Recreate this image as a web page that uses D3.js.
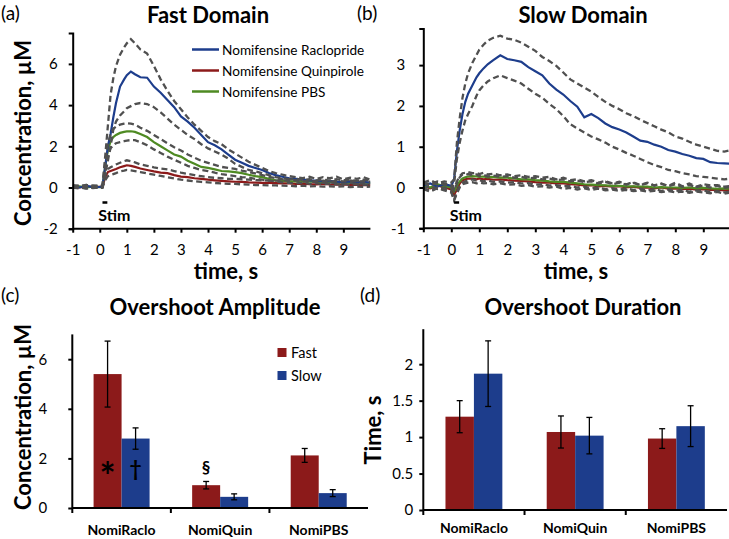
<!DOCTYPE html>
<html><head><meta charset="utf-8">
<script src="https://cdn.jsdelivr.net/npm/d3@7"></script>
<style>body{margin:0;background:#fff}svg{display:block;font-family:Lato,"Open Sans",sans-serif}</style>
</head><body><svg id="c" width="729" height="539"></svg>
<script>
// ---------- DATA ----------
const T = [-1,-0.75,-0.5,-0.25,0,0.1,0.2,0.3,0.4,0.5,0.6,0.75,0.9,1.0,1.15,1.3,1.5,1.75,
  2.0,2.25,2.5,2.75,3.0,3.25,3.5,3.75,4.0,4.25,4.5,4.75,5.0,5.25,5.5,5.75,6.0,6.25,6.5,6.75,
  7.0,7.25,7.5,7.75,8.0,8.25,8.5,8.75,9.0,9.25,9.5,9.75,10];

// Fast domain (a)
const fastRaclo = [0.05,0.0,0.08,0.02,0.03, 0.05,1.0,2.0,2.6,3.4,4.1,4.9,5.25, 5.45,5.63,5.5,5.35,5.33,
  4.9,4.6,4.25,3.9,3.45,3.2,2.9,2.55,2.2,2.05,1.85,1.6,1.35,1.2,1.05,0.95,0.85,0.7,0.6,0.52,0.45,0.42,0.38,0.35,0.33,0.3,0.32,0.28,0.26,0.3,0.25,0.27,0.24];
const fastRacloHi = [0.1,0.05,0.12,0.07,0.08, 0.1,1.5,3.0,4.5,5.3,5.9,6.45,6.8, 7.0,7.2,7.0,6.7,6.5,
  5.9,5.25,4.7,4.2,3.8,3.4,3.05,2.75,2.45,2.25,2.1,1.85,1.65,1.45,1.25,1.1,0.95,0.8,0.7,0.62,0.55,0.5,0.45,0.52,0.42,0.5,0.45,0.52,0.4,0.48,0.42,0.5,0.38];
const fastRacloLo = [0.0,-0.05,0.03,-0.03,0.0, 0.0,0.6,1.3,2.0,2.8,3.2,3.5,3.7, 3.85,3.95,4.05,4.1,4.05,
  3.9,3.65,3.35,3.05,2.8,2.55,2.35,2.1,1.9,1.75,1.6,1.4,1.15,1.0,0.85,0.78,0.7,0.6,0.5,0.45,0.4,0.35,0.3,0.28,0.25,0.22,0.25,0.2,0.18,0.22,0.17,0.2,0.16];
const fastPBS = [0.03,0.06,0.0,0.04,0.02, 0.03,1.0,1.8,2.25,2.45,2.55,2.65,2.7, 2.72,2.73,2.7,2.6,2.45,
  2.2,2.0,1.8,1.6,1.5,1.3,1.15,1.0,0.95,0.88,0.8,0.78,0.75,0.7,0.62,0.55,0.5,0.42,0.35,0.32,0.3,0.3,0.28,0.3,0.27,0.25,0.28,0.24,0.26,0.22,0.25,0.23,0.22];
const fastPBSHi = [0.08,0.1,0.05,0.1,0.06, 0.08,1.2,2.1,2.6,2.85,2.95,3.05,3.1, 3.12,3.1,3.05,2.9,2.75,
  2.55,2.35,2.15,1.95,1.8,1.6,1.45,1.3,1.2,1.1,1.0,0.95,0.9,0.82,0.75,0.68,0.6,0.52,0.45,0.4,0.38,0.42,0.36,0.4,0.35,0.38,0.33,0.4,0.35,0.37,0.32,0.38,0.34];
const fastPBSLo = [-0.02,0.02,-0.04,0.0,-0.03, 0.0,0.8,1.5,1.9,2.05,2.15,2.2,2.25, 2.28,2.3,2.3,2.2,2.05,
  1.85,1.68,1.5,1.35,1.2,1.05,0.95,0.85,0.8,0.72,0.65,0.6,0.55,0.5,0.48,0.42,0.38,0.33,0.3,0.25,0.22,0.2,0.23,0.18,0.2,0.16,0.19,0.15,0.18,0.14,0.17,0.13,0.15];
const fastQuin = [0.04,0.0,0.05,0.02,0.03, 0.03,0.5,0.75,0.8,0.85,0.9,0.98,1.04, 1.08,1.05,1.0,0.92,0.85,
  0.78,0.72,0.7,0.6,0.53,0.5,0.45,0.42,0.38,0.35,0.32,0.3,0.28,0.27,0.25,0.24,0.22,0.22,0.21,0.2,0.2,0.18,0.19,0.16,0.15,0.17,0.15,0.14,0.15,0.13,0.14,0.12,0.12];
const fastQuinHi = [0.1,0.05,0.12,0.06,0.09, 0.08,0.6,0.9,0.98,1.05,1.12,1.2,1.28, 1.32,1.28,1.22,1.12,1.05,
  0.98,0.92,0.88,0.8,0.72,0.66,0.6,0.55,0.5,0.47,0.45,0.42,0.42,0.4,0.38,0.36,0.35,0.34,0.33,0.35,0.32,0.36,0.3,0.34,0.3,0.33,0.28,0.32,0.3,0.34,0.29,0.31,0.28];
const fastQuinLo = [-0.03,0.01,-0.05,0.0,-0.02, 0.0,0.35,0.55,0.6,0.65,0.7,0.78,0.82, 0.85,0.83,0.8,0.75,0.68,
  0.62,0.56,0.5,0.44,0.38,0.34,0.3,0.27,0.25,0.22,0.2,0.18,0.18,0.15,0.14,0.12,0.12,0.1,0.1,0.09,0.08,0.06,0.09,0.05,0.07,0.04,0.06,0.03,0.06,0.02,0.05,0.03,0.04];

// Slow domain (b)
const slowRaclo = [0.05,0.1,0.02,0.08,0.04, 0.2,0.9,1.4,1.8,2.1,2.3,2.5,2.7, 2.8,2.92,3.02,3.12,3.24,
  3.15,3.12,3.08,2.95,2.85,2.75,2.55,2.4,2.28,2.12,1.98,1.72,1.8,1.7,1.57,1.48,1.42,1.35,1.25,1.15,1.12,1.05,1.0,0.92,0.88,0.82,0.78,0.72,0.7,0.62,0.6,0.59,0.58];
const slowRacloHi = [0.12,0.18,0.1,0.15,0.12, 0.2,1.1,1.7,2.2,2.55,2.8,3.05,3.25, 3.38,3.5,3.6,3.67,3.72,
  3.65,3.62,3.55,3.45,3.35,3.2,3.1,2.98,2.82,2.65,2.55,2.45,2.35,2.22,2.1,2.0,1.92,1.82,1.75,1.66,1.58,1.5,1.42,1.35,1.25,1.2,1.12,1.05,1.0,0.95,0.9,0.88,0.92];
const slowRacloLo = [-0.02,0.03,-0.04,0.0,-0.05, 0.1,0.7,1.1,1.4,1.65,1.8,2.0,2.25, 2.38,2.5,2.6,2.68,2.75,
  2.68,2.62,2.55,2.42,2.3,2.2,2.05,1.92,1.75,1.55,1.45,1.35,1.25,1.18,1.1,1.0,0.93,0.85,0.78,0.7,0.62,0.55,0.5,0.43,0.4,0.35,0.32,0.28,0.26,0.24,0.22,0.2,0.22];
const slowPBS = [0.05,0.0,0.08,0.03,0.0, -0.1,0.05,0.15,0.22,0.25,0.27,0.28,0.27, 0.26,0.27,0.25,0.26,0.24,
  0.24,0.22,0.2,0.2,0.18,0.17,0.15,0.14,0.14,0.12,0.1,0.08,0.07,0.06,0.05,0.04,0.04,0.03,0.03,0.02,0.02,0.0,0.01,0.0,0.0,-0.01,0.0,-0.02,-0.01,-0.02,-0.03,-0.02,-0.03];
const slowPBSHi = [0.12,0.08,0.15,0.1,0.06, -0.02,0.15,0.28,0.35,0.36,0.38,0.35,0.36, 0.33,0.36,0.32,0.34,0.3,
  0.32,0.28,0.3,0.26,0.28,0.24,0.26,0.2,0.24,0.18,0.2,0.15,0.18,0.12,0.16,0.1,0.14,0.08,0.13,0.06,0.12,0.05,0.1,0.04,0.12,0.03,0.1,0.02,0.08,0.05,0.06,0.02,0.04];
const slowPBSLo = [-0.02,-0.08,0.0,-0.05,-0.1, -0.3,-0.1,0.05,0.12,0.15,0.18,0.2,0.17, 0.18,0.15,0.17,0.14,0.15,
  0.12,0.13,0.1,0.11,0.07,0.08,0.05,0.06,0.03,0.04,0.0,0.02,-0.02,0.0,-0.04,-0.02,-0.05,-0.02,-0.06,-0.03,-0.07,-0.04,-0.08,-0.05,-0.09,-0.06,-0.1,-0.07,-0.08,-0.11,-0.09,-0.12,-0.1];
const slowQuin = [0.04,-0.02,0.05,0.0,-0.05, -0.18,-0.05,0.1,0.18,0.2,0.22,0.22,0.2, 0.22,0.2,0.21,0.19,0.2,
  0.18,0.17,0.16,0.15,0.13,0.12,0.12,0.1,0.1,0.08,0.07,0.05,0.06,0.03,0.04,0.02,0.03,0.0,0.02,-0.01,0.0,-0.02,0.0,-0.03,-0.02,-0.04,-0.03,-0.05,-0.04,-0.06,-0.05,-0.07,-0.06];
const slowQuinHi = [0.1,0.05,0.12,0.07,0.02, -0.08,0.1,0.25,0.32,0.3,0.33,0.3,0.32, 0.28,0.31,0.27,0.29,0.26,
  0.28,0.24,0.26,0.22,0.24,0.2,0.22,0.18,0.2,0.15,0.17,0.13,0.15,0.1,0.14,0.08,0.12,0.07,0.11,0.06,0.1,0.05,0.09,0.03,0.08,0.02,0.06,0.01,0.05,0.0,0.04,-0.01,0.02];
const slowQuinLo = [-0.04,-0.1,-0.02,-0.07,-0.12, -0.32,-0.15,0.0,0.08,0.1,0.12,0.13,0.1, 0.12,0.1,0.11,0.08,0.1,
  0.07,0.08,0.04,0.06,0.02,0.03,0.0,0.02,-0.03,-0.01,-0.05,-0.02,-0.06,-0.03,-0.07,-0.05,-0.08,-0.06,-0.09,-0.07,-0.1,-0.08,-0.11,-0.09,-0.12,-0.1,-0.13,-0.1,-0.12,-0.14,-0.11,-0.15,-0.12];

const timeTicks = [-1,0,1,2,3,4,5,6,7,8,9];
const fastTicks = [-2,0,2,4,6];
const slowTicks = [-1,0,1,2,3];
const stimWindow = [0.1, 0.28];
const legendNames = ["Nomifensine Raclopride","Nomifensine Quinpirole","Nomifensine PBS"];

// Bar panels (c), (d)
const barCats = ["NomiRaclo","NomiQuin","NomiPBS"];
const barSeries = ["Fast","Slow"];
const ampFast = [5.4, 0.92, 2.12], ampFastErr = [1.33, 0.15, 0.28];
const ampSlow = [2.8, 0.45, 0.6],  ampSlowErr = [0.43, 0.12, 0.14];
const durFast = [1.28, 1.07, 0.98], durFastErr = [0.22, 0.22, 0.135];
const durSlow = [1.87, 1.02, 1.15], durSlowErr = [0.45, 0.25, 0.28];
const ampTicks = [0,2,4,6];
const durTicks = [0,0.5,1,1.5,2];

// ---------- STYLE ----------
const C_BLUE="#1d3d8c", C_RED="#8c1a1a", C_GREEN="#4e8a22", C_GRAY="#505050";
const TICK_FS = 15;
const svg = d3.select("#c");
svg.append("rect").attr("width",729).attr("height",539).attr("fill","#fff");

function styleAxis(g, fs){
  g.selectAll("path.domain").attr("stroke","#000").attr("stroke-width",2);
  g.selectAll(".tick line").attr("stroke","#000").attr("stroke-width",2);
  g.selectAll(".tick text").attr("font-size",fs).attr("fill","#000").attr("font-family","Lato");
}

function linePanel(o){
  const x = d3.scaleLinear().domain([-1,10]).range(o.xr);
  const y = d3.scaleLinear().domain(o.yd).range(o.yr);
  const id = "clip"+o.key;
  svg.append("clipPath").attr("id",id).append("rect")
    .attr("x",o.xr[0]).attr("y",0).attr("width",Math.min(o.xr[1],729)-o.xr[0]).attr("height",o.yr[0]);
  const g = svg.append("g").attr("clip-path",`url(#${id})`);
  const line = d3.line().x((d,i)=>x(T[i])).y(d=>y(d));
  o.means.forEach(m=>{
    g.append("path").attr("d",line(m.v)).attr("fill","none").attr("stroke",m.c).attr("stroke-width",2.2);
  });
  o.bounds.forEach(b=>{
    g.append("path").attr("d",line(b)).attr("fill","none").attr("stroke",C_GRAY)
      .attr("stroke-width",2.3).attr("stroke-dasharray","6,3.5");
  });
  const ya = svg.append("g").attr("transform",`translate(${o.xr[0]},0)`)
    .call(d3.axisLeft(y).tickValues(o.yt).tickSize(4).tickPadding(o.ypad).tickFormat(d=>String(d)));
  styleAxis(ya,TICK_FS);
  const xa = svg.append("g").attr("transform",`translate(0,${o.yr[0]})`)
    .call(d3.axisBottom(x).tickValues(timeTicks).tickSize(4).tickPadding(12).tickFormat(d=>String(d)));
  styleAxis(xa,TICK_FS);
  xa.select("path.domain").attr("d",`M${o.xr[0]},0H${Math.min(o.xr[1],729)}`);
  // stim
  svg.append("line").attr("x1",x(stimWindow[0])).attr("x2",x(stimWindow[1]))
    .attr("y1",202.5).attr("y2",202.5).attr("stroke","#000").attr("stroke-width",2.5);
  svg.append("text").attr("x",x(0)-1.5).attr("y",221).attr("font-size",16).attr("font-weight","bold").text("Stim");
  return {x,y};
}

// Panel (a)
linePanel({key:"a", xr:[72.7,370.4], yd:[-2,7.5], yr:[228.7,33], yt:fastTicks, ypad:11,
  means:[{v:fastQuin,c:C_RED},{v:fastPBS,c:C_GREEN},{v:fastRaclo,c:C_BLUE}],
  bounds:[fastRacloHi,fastRacloLo,fastPBSHi,fastPBSLo,fastQuinHi,fastQuinLo]});
// Panel (b)
linePanel({key:"b", xr:[423.3,731.3], yd:[-1,3.9], yr:[228.3,28.4], yt:slowTicks, ypad:14,
  means:[{v:slowQuin,c:C_RED},{v:slowPBS,c:C_GREEN},{v:slowRaclo,c:C_BLUE}],
  bounds:[slowRacloHi,slowRacloLo,slowPBSHi,slowPBSLo,slowQuinHi,slowQuinLo]});

// legend (a)
[C_BLUE,C_RED,C_GREEN].forEach((c,i)=>{
  const yy = 49.5 + i*21;
  svg.append("line").attr("x1",192).attr("x2",219).attr("y1",yy).attr("y2",yy).attr("stroke",c).attr("stroke-width",2.5);
  svg.append("text").attr("x",222).attr("y",yy+5).attr("font-size",13.6).text(legendNames[i]);
});

// titles and labels
function txt(x,y,s,fs,opt={}){
  const t = svg.append("text").attr("x",x).attr("y",y).attr("font-size",fs).text(s)
    .attr("text-anchor",opt.anchor||"middle").attr("font-weight",opt.bold?"bold":"normal");
  if(opt.rot) t.attr("transform",`rotate(-90,${x},${y})`);
  return t;
}
txt(1,20,"(a)",19,{anchor:"start"});
txt(357,20,"(b)",19,{anchor:"start"});
txt(1,302,"(c)",19,{anchor:"start"});
txt(360,302,"(d)",19,{anchor:"start"});
txt(208,23,"Fast Domain",22,{bold:true});
txt(583,23,"Slow Domain",22,{bold:true});
txt(226,279,"time, s",22,{bold:true});
txt(576,279,"time, s",22,{bold:true});
txt(31,133,"Concentration, µM",22,{bold:true,rot:true});
txt(215,315,"Overshoot Amplitude",22,{bold:true});
txt(583,315,"Overshoot Duration",22,{bold:true});
txt(31,417,"Concentration, µM",22,{bold:true,rot:true});
txt(381,430,"Time, s",22,{bold:true,rot:true});

// ---------- BAR PANELS ----------
function barPanel(o){
  const x0 = d3.scaleBand().domain(barCats).range(o.xr).padding(0);
  const x1 = d3.scaleBand().domain(barSeries).range([0,x0.bandwidth()]).paddingInner(0).paddingOuter(o.po);
  const y = d3.scaleLinear().domain(o.yd).range(o.yr);
  const series = [{k:"Fast",v:o.fast,e:o.fastErr,c:C_RED},{k:"Slow",v:o.slow,e:o.slowErr,c:C_BLUE}];
  series.forEach(s=>{
    barCats.forEach((cat,i)=>{
      const bx = x0(cat)+x1(s.k);
      svg.append("rect").attr("x",bx).attr("y",y(s.v[i])).attr("width",x1.bandwidth())
        .attr("height",y(0)-y(s.v[i])).attr("fill",s.c);
      const cx = bx + x1.bandwidth()/2;
      const lo = y(s.v[i]-s.e[i]), hi = y(s.v[i]+s.e[i]);
      svg.append("line").attr("x1",cx).attr("x2",cx).attr("y1",lo).attr("y2",hi).attr("stroke","#000").attr("stroke-width",1.3);
      [lo,hi].forEach(yy=>svg.append("line").attr("x1",cx-3).attr("x2",cx+3).attr("y1",yy).attr("y2",yy).attr("stroke","#000").attr("stroke-width",1.3));
    });
  });
  const ya = svg.append("g").attr("transform",`translate(${o.xr[0]},0)`)
    .call(d3.axisLeft(y).tickValues(o.yt).tickSize(4).tickPadding(o.ypad).tickFormat(d=>String(d)));
  styleAxis(ya,TICK_FS);
  ya.select("path.domain").attr("d",`M0,${o.yr[0]}V${o.yr[1]}`);
  // x axis with category separators
  const xa = svg.append("g").attr("transform",`translate(0,${o.yr[0]})`);
  xa.append("line").attr("x1",o.xr[0]).attr("x2",o.xr[1]).attr("stroke","#000").attr("stroke-width",2);
  barCats.forEach(cat=>{
    xa.append("line").attr("x1",x0(cat)).attr("x2",x0(cat)).attr("y1",0).attr("y2",5).attr("stroke","#000").attr("stroke-width",2);
    xa.append("text").attr("x",x0(cat)+x0.bandwidth()/2).attr("y",o.labY).attr("text-anchor","middle")
      .attr("font-size",14).attr("font-weight","bold").text(cat);
  });
  return {x0,x1,y};
}

const pc = barPanel({xr:[72.3,368], yd:[0,7], yr:[508,334.4], yt:ampTicks, ypad:21, po:0.76, labY:27,
  fast:ampFast, fastErr:ampFastErr, slow:ampSlow, slowErr:ampSlowErr});
const pd = barPanel({xr:[423.3,727], yd:[0,2.48], yr:[510,329.2], yt:durTicks, ypad:6, po:0.78, labY:23,
  fast:durFast, fastErr:durFastErr, slow:durSlow, slowErr:durSlowErr});

// legend (c)
[["Fast",C_RED],["Slow",C_BLUE]].forEach((d,i)=>{
  const yy = 352.5 + i*23;
  svg.append("rect").attr("x",277.5).attr("y",yy-4.5).attr("width",9).attr("height",9).attr("fill",d[1]);
  svg.append("text").attr("x",291).attr("y",yy+5).attr("font-size",14.5).text(d[0]);
});

// significance marks (c)
const xRacloF = pc.x0("NomiRaclo")+pc.x1("Fast")+pc.x1.bandwidth()/2;
const xRacloS = pc.x0("NomiRaclo")+pc.x1("Slow")+pc.x1.bandwidth()/2;
const xQuinF = pc.x0("NomiQuin")+pc.x1("Fast")+pc.x1.bandwidth()/2;
txt(xRacloF,490,"*",38,{bold:true});
txt(xRacloS,476,"†",21,{bold:true});
txt(xQuinF,473,"§",17,{bold:true});
</script></body></html>
